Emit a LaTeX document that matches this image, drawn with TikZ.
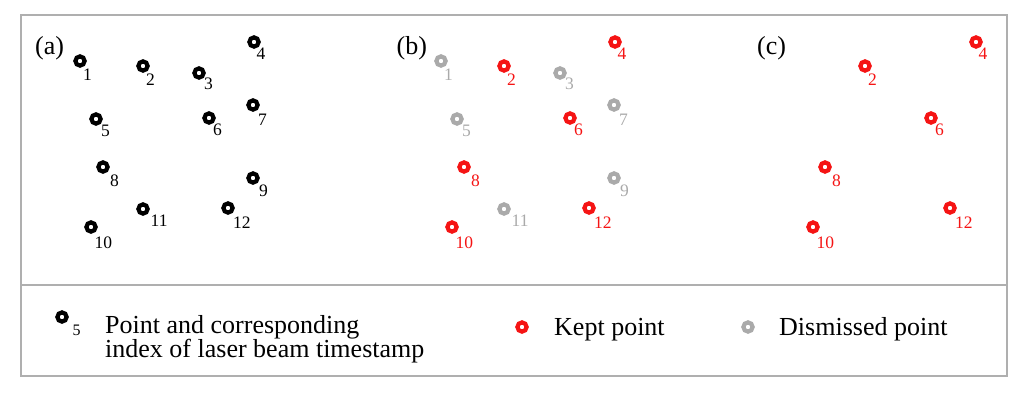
\documentclass[tikz,border=0pt]{standalone}
\usepackage{fontspec}
\setmainfont{Liberation Serif}
\definecolor{keptred}{RGB}{245,20,20}
\definecolor{dismgrey}{RGB}{170,170,170}
\definecolor{framegrey}{RGB}{175,175,175}
\tikzset{
  ring/.style={circle, draw, line width=4.2pt, minimum size=9.2pt, inner sep=0pt},
  idx/.style={anchor=base west, inner sep=0pt, font=\fontsize{17.5}{18}\selectfont},
  panel/.style={anchor=base west, inner sep=0pt, font=\fontsize{26}{26}\selectfont},
  legtext/.style={anchor=base west, inner sep=0pt, align=left, font=\fontsize{26}{24}\selectfont},
  frame/.style={draw=framegrey, line width=1.8pt}
}
\begin{document}
\begin{tikzpicture}[x=1pt,y=-1pt]
\useasboundingbox (0,0) rectangle (1024,406);
% frame
\coordinate (tl) at (21,15);
\coordinate (br) at (1007,376);
\coordinate (dl) at (21,285);
\coordinate (dr) at (1007,285);
\draw[frame] (tl) rectangle (br);
\draw[frame] (dl) -- (dr);
% panel labels
\node[panel] (pa) at (35,55) {(a)};
\node[panel] (pb) at (396.5,55) {(b)};
\node[panel] (pc) at (757,55) {(c)};
% panel (a)
\foreach \n/\x/\y/\dx/\dy in {1/80/61/3/19.7,2/143/66/3/20,3/199/73/5/17,4/254/42/2.5/17.3,5/96/119/5/17.7,6/209/118/4/18,7/253/105/5/21,8/103/167/7/19,9/253/178/6/18.7,10/91/227/3.5/21.3,11/143/209/7.5/17.7,12/228/208/5/20.3}{
  \node[ring, draw=black] (a\n) at (\x,\y) {};
  \node[idx, text=black] (la\n) at ({\x+\dx},{\y+\dy}) {\n};
}
% panel (b)
\foreach \n/\x/\y/\dx/\dy/\c in {1/80/61/3/19.7/dismgrey,2/143/66/3/20/keptred,3/199/73/5/17/dismgrey,4/254/42/2.5/17.3/keptred,5/96/119/5/17.7/dismgrey,6/209/118/4/18/keptred,7/253/105/5/21/dismgrey,8/103/167/7/19/keptred,9/253/178/6/18.7/dismgrey,10/91/227/3.5/21.3/keptred,11/143/209/7.5/17.7/dismgrey,12/228/208/5/20.3/keptred}{
  \node[ring, draw=\c] (b\n) at ({\x+361},\y) {};
  \node[idx, text=\c] (lb\n) at ({\x+361+\dx},{\y+\dy}) {\n};
}
% panel (c)
\foreach \n/\x/\y/\dx/\dy in {2/143/66/3/20,4/254/42/2.5/17.3,6/209/118/4/18,8/103/167/7/19,10/91/227/3.5/21.3,12/228/208/5/20.3}{
  \node[ring, draw=keptred] (c\n) at ({\x+722},\y) {};
  \node[idx, text=keptred] (lc\n) at ({\x+722+\dx},{\y+\dy}) {\n};
}
% legend
\node[ring, draw=black] (l1) at (62,317) {};
\node[anchor=base west, inner sep=0pt, font=\fontsize{16}{16}\selectfont] (l1s) at (72.5,335) {5};
\node[legtext] (l1t) at (105,357.5) {Point and corresponding\\index of laser beam timestamp};
\node[ring, draw=keptred] (l2) at (522,327) {};
\node[legtext] (l2t) at (554,335) {Kept point};
\node[ring, draw=dismgrey] (l3) at (748,327) {};
\node[legtext] (l3t) at (779,335) {Dismissed point};
\end{tikzpicture}
\end{document}
